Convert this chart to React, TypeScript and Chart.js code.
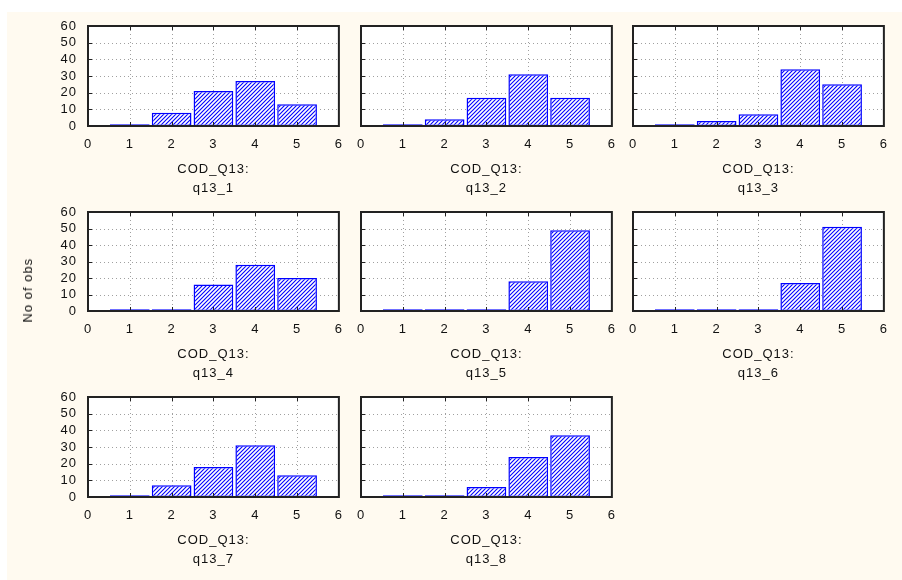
import React, { useEffect, useRef } from 'react';
import { Chart, registerables } from 'chart.js';

Chart.register(...registerables);

// ---- data ----
const bins = [1, 2, 3, 4, 5];
const xTicks = [0, 1, 2, 3, 4, 5, 6];
const yTicks = [0, 10, 20, 30, 40, 50, 60];
const groupLabel = 'COD_Q13:';
const yTitle = 'No of obs';
const variables = ['q13_1', 'q13_2', 'q13_3', 'q13_4', 'q13_5', 'q13_6', 'q13_7', 'q13_8'];

const q13_1 = [1, 8, 21, 27, 13];
const q13_2 = [1, 4, 17, 31, 17];
const q13_3 = [1, 3, 7, 34, 25];
const q13_4 = [1, 1, 16, 28, 20];
const q13_5 = [1, 1, 1, 18, 49];
const q13_6 = [1, 1, 1, 17, 51];
const q13_7 = [1, 7, 18, 31, 13];
const q13_8 = [1, 1, 6, 24, 37];
const seriesValues = [q13_1, q13_2, q13_3, q13_4, q13_5, q13_6, q13_7, q13_8];

// ---- layout / style ----
const FAMILY = "'Liberation Sans', Arial, sans-serif";
const TEXT = '#111111';
const COL_LEFT = [88, 361, 633];
const ROW_TOP = [26, 212, 397];
const ROW_H = [100, 99, 100];
const PLOT_W = 252;
const PAD_L = 60;
const PAD_T = 20;
const PAD_R = 14;
const PAD_B = 72;

function makePattern(): CanvasPattern | string {
  const c = document.createElement('canvas');
  c.width = 4;
  c.height = 4;
  const g = c.getContext('2d');
  if (!g) return '#8080ff';
  g.fillStyle = '#ffffff';
  g.fillRect(0, 0, 4, 4);
  g.strokeStyle = '#0000ff';
  g.lineWidth = 1.1;
  g.beginPath();
  g.moveTo(0, 4);
  g.lineTo(4, 0);
  g.moveTo(-1, 1);
  g.lineTo(1, -1);
  g.moveTo(3, 5);
  g.lineTo(5, 3);
  g.stroke();
  const p = g.createPattern(c, 'repeat');
  return p || '#8080ff';
}

const framePlugin = {
  id: 'statFrame',
  beforeUpdate(chart: any) {
    chart.ctx.letterSpacing = '1px';
  },
  beforeDraw(chart: any) {
    const { ctx, chartArea: a } = chart;
    ctx.letterSpacing = '1px';
    ctx.save();
    ctx.fillStyle = '#ffffff';
    ctx.fillRect(a.left, a.top, a.right - a.left, a.bottom - a.top);
    ctx.restore();
  },
  beforeDatasetsDraw(chart: any) {
    const { ctx, chartArea: a, scales } = chart;
    const x = scales.x;
    const y = scales.y;
    ctx.save();
    ctx.strokeStyle = '#a0a0a0';
    ctx.lineWidth = 1;
    ctx.setLineDash([1, 3]);
    x.ticks.forEach((t: any) => {
      if (t.value > x.min && t.value < x.max) {
        const px = Math.round(x.getPixelForValue(t.value)) + 0.5;
        ctx.beginPath();
        ctx.moveTo(px, a.top);
        ctx.lineTo(px, a.bottom);
        ctx.stroke();
      }
    });
    y.ticks.forEach((t: any) => {
      if (t.value > y.min && t.value < y.max) {
        const py = Math.round(y.getPixelForValue(t.value)) + 0.5;
        ctx.beginPath();
        ctx.moveTo(a.left, py);
        ctx.lineTo(a.right, py);
        ctx.stroke();
      }
    });
    ctx.restore();
  },
  afterDatasetsDraw(chart: any) {
    const { ctx, chartArea: a, scales } = chart;
    const x = scales.x;
    const y = scales.y;
    ctx.save();
    ctx.strokeStyle = '#222222';
    ctx.lineWidth = 1;
    x.ticks.forEach((t: any) => {
      if (t.value > x.min && t.value < x.max) {
        const px = Math.round(x.getPixelForValue(t.value)) + 0.5;
        ctx.beginPath();
        ctx.moveTo(px, a.top);
        ctx.lineTo(px, a.top + 4);
        ctx.moveTo(px, a.bottom);
        ctx.lineTo(px, a.bottom - 4);
        ctx.stroke();
      }
    });
    y.ticks.forEach((t: any) => {
      if (t.value > y.min && t.value < y.max) {
        const py = Math.round(y.getPixelForValue(t.value)) + 0.5;
        ctx.beginPath();
        ctx.moveTo(a.left, py);
        ctx.lineTo(a.left + 4, py);
        ctx.stroke();
      }
    });
    ctx.lineWidth = 2;
    ctx.strokeRect(a.left, a.top, a.right - a.left, a.bottom - a.top);
    ctx.restore();
  },
};

function Panel({ index }: { index: number }) {
  const ref = useRef<HTMLCanvasElement>(null);
  const col = index % 3;
  const row = Math.floor(index / 3);
  const w = PAD_L + PLOT_W + PAD_R;
  const h = PAD_T + ROW_H[row] + PAD_B;

  useEffect(() => {
    const canvas = ref.current;
    if (!canvas) return;
    const pattern = makePattern();
    const tickFont = { family: FAMILY, size: 13 };
    const chart = new Chart(canvas, {
      type: 'bar',
      data: {
        datasets: [
          {
            data: bins.map((b, i) => ({ x: b, y: seriesValues[index][i] })),
            backgroundColor: pattern as any,
            borderColor: '#0000ff',
            borderWidth: 1.5,
            borderSkipped: false,
            barPercentage: 0.95,
            categoryPercentage: 1,
          } as any,
        ],
      },
      options: {
        responsive: false,
        animation: false,
        devicePixelRatio: 1,
        layout: { padding: { left: 0, top: PAD_T, right: PAD_R, bottom: 0 } },
        plugins: {
          legend: { display: false },
          tooltip: { enabled: false },
          title: { display: false },
        },
        scales: {
          x: {
            type: 'linear',
            offset: false,
            min: 0,
            max: 6,
            afterBuildTicks: (s: any) => {
              s.ticks = xTicks.map((v) => ({ value: v }));
            },
            afterFit: (s: any) => {
              s.height = PAD_B;
            },
            grid: { display: false, drawTicks: false, offset: false },
            border: { display: false },
            ticks: {
              font: tickFont,
              color: TEXT,
              padding: 11,
              autoSkip: false,
              maxRotation: 0,
              minRotation: 0,
            },
            title: {
              display: true,
              text: [groupLabel, variables[index]],
              font: { family: FAMILY, size: 13, lineHeight: 19 / 13 },
              color: TEXT,
              padding: { top: 0, bottom: 0 },
            },
          },
          y: {
            type: 'linear',
            min: 0,
            max: 60,
            afterBuildTicks: (s: any) => {
              s.ticks = yTicks.map((v) => ({ value: v }));
            },
            afterFit: (s: any) => {
              s.width = PAD_L;
            },
            grid: { display: false, drawTicks: false },
            border: { display: false },
            ticks: {
              display: col === 0,
              font: tickFont,
              color: TEXT,
              padding: 11,
              autoSkip: false,
            },
          },
        },
      } as any,
      plugins: [framePlugin as any],
    });
    return () => chart.destroy();
  }, [index, col]);

  return (
    <canvas
      ref={ref}
      width={w}
      height={h}
      style={{
        position: 'absolute',
        left: COL_LEFT[col] - PAD_L,
        top: ROW_TOP[row] - PAD_T,
        width: w,
        height: h,
      }}
    />
  );
}

export default function App() {
  return (
    <div
      style={{
        position: 'fixed',
        left: 0,
        top: 0,
        width: 902,
        height: 580,
        background: '#ffffff',
        overflow: 'hidden',
      }}
    >
      <div
        style={{
          position: 'absolute',
          left: 7,
          top: 12,
          right: 0,
          bottom: 0,
          background: '#fffaf0',
        }}
      />
      {variables.map((v, i) => (
        <Panel key={v} index={i} />
      ))}
      <div
        style={{
          position: 'absolute',
          left: 21,
          top: 258,
          writingMode: 'vertical-rl',
          transform: 'rotate(180deg)',
          fontFamily: FAMILY,
          fontSize: 13,
          lineHeight: '14px',
          letterSpacing: '1px',
          color: TEXT,
          whiteSpace: 'nowrap',
        }}
      >
        {yTitle}
      </div>
    </div>
  );
}
